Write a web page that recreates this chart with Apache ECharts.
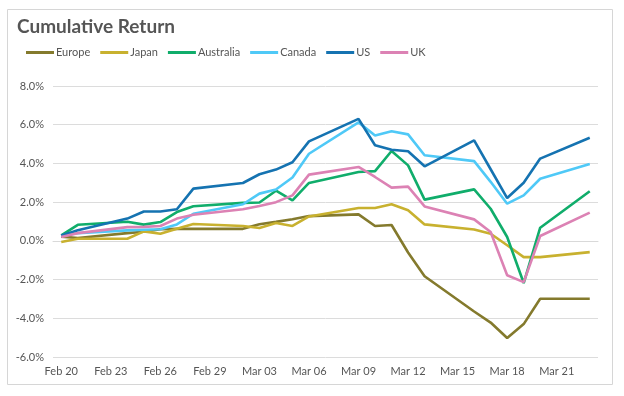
<!DOCTYPE html>
<html>
<head>
<meta charset="utf-8">
<script src="https://cdn.jsdelivr.net/npm/echarts@6/dist/echarts.min.js"></script>
<style>
    html, body { margin: 0; padding: 0; background: #fff; }
    #chart { width: 624px; height: 396px; }
</style>
</head>
<body>
<div id="chart"></div>
<script>
// 日历上的每一天（周末没有数据）
const calendarDays = [
    'Feb 20', 'Feb 21', 'Feb 22', 'Feb 23', 'Feb 24', 'Feb 25', 'Feb 26', 'Feb 27', 'Feb 28', 'Feb 29',
    'Mar 01', 'Mar 02', 'Mar 03', 'Mar 04', 'Mar 05', 'Mar 06', 'Mar 07', 'Mar 08', 'Mar 09', 'Mar 10',
    'Mar 11', 'Mar 12', 'Mar 13', 'Mar 14', 'Mar 15', 'Mar 16', 'Mar 17', 'Mar 18', 'Mar 19', 'Mar 20',
    'Mar 21', 'Mar 22', 'Mar 23'
];

// 交易日
const tradingDays = [
    'Feb 20', 'Feb 21', 'Feb 24', 'Feb 25', 'Feb 26', 'Feb 27', 'Feb 28',
    'Mar 02', 'Mar 03', 'Mar 04', 'Mar 05', 'Mar 06',
    'Mar 09', 'Mar 10', 'Mar 11', 'Mar 12', 'Mar 13',
    'Mar 16', 'Mar 17', 'Mar 18', 'Mar 19', 'Mar 20', 'Mar 23'
];

// 累计收益 (%)
const europe    = [0.22, 0.15, 0.40, 0.47, 0.60, 0.62, 0.62, 0.62, 0.86, 0.98, 1.12, 1.28, 1.37, 0.77, 0.82, -0.60, -1.83, -3.65, -4.22, -5.02, -4.30, -2.99, -2.99];
const japan     = [-0.06, 0.11, 0.11, 0.49, 0.37, 0.63, 0.87, 0.77, 0.66, 0.92, 0.77, 1.26, 1.70, 1.70, 1.89, 1.58, 0.85, 0.59, 0.37, -0.23, -0.84, -0.84, -0.58];
const australia = [0.28, 0.83, 0.99, 0.84, 0.97, 1.49, 1.79, 1.96, 1.98, 2.59, 2.09, 2.99, 3.56, 3.60, 4.64, 3.90, 2.13, 2.66, 1.66, 0.20, -2.18, 0.68, 2.56];
const canada    = [0.28, 0.40, 0.54, 0.57, 0.60, 0.85, 1.40, 1.89, 2.44, 2.65, 3.27, 4.50, 6.12, 5.44, 5.66, 5.50, 4.42, 4.12, 3.05, 1.92, 2.35, 3.21, 3.97];
const us        = [0.28, 0.55, 1.15, 1.52, 1.52, 1.63, 2.70, 2.99, 3.44, 3.68, 4.06, 5.14, 6.30, 4.94, 4.71, 4.63, 3.85, 5.19, 3.70, 2.21, 3.00, 4.25, 5.33];
const uk        = [0.20, 0.40, 0.71, 0.72, 0.77, 1.15, 1.35, 1.63, 1.80, 2.00, 2.35, 3.42, 3.82, 3.30, 2.75, 2.80, 1.78, 1.11, 0.46, -1.78, -2.13, 0.25, 1.46];

const seriesNames  = ['Europe', 'Japan', 'Australia', 'Canada', 'US', 'UK'];
const seriesValues = [europe, japan, australia, canada, us, uk];
const seriesColors = ['#847a2d', '#c8b12f', '#10ad6b', '#4fc9f7', '#1573b1', '#dc82b4'];

const chart = echarts.init(document.getElementById('chart'));

const series = seriesNames.map((name, i) => ({
    name: name,
    type: 'line',
    symbol: 'none',
    connectNulls: true,
    lineStyle: { width: 2.6, color: seriesColors[i] },
    itemStyle: { color: seriesColors[i] },
    data: seriesValues[i].map((v, j) => [tradingDays[j], v])
}));

chart.setOption({
    animation: false,
    textStyle: { fontFamily: 'Lato' },
    graphic: [{
        type: 'rect',
        shape: { x: 7.5, y: 9.5, width: 605, height: 375 },
        style: { fill: 'none', stroke: '#d6d6d6', lineWidth: 1 }
    }],
    title: {
        text: 'Cumulative Return',
        left: 12,
        top: 12,
        textStyle: { fontSize: 19, fontWeight: 'bold', color: '#555', fontFamily: 'Lato' }
    },
    legend: {
        left: 21,
        top: 42,
        icon: 'rect',
        itemWidth: 28,
        itemHeight: 3,
        itemGap: 10,
        textStyle: { fontSize: 11, color: '#555', fontFamily: 'Lato', padding: [0, 0, 0, -3] },
        data: seriesNames
    },
    grid: { left: 53, right: 26, top: 86, bottom: 39 },
    xAxis: {
        type: 'category',
        boundaryGap: true,
        data: calendarDays,
        axisLine: { lineStyle: { color: '#d9d9d9' } },
        axisTick: { show: false },
        axisLabel: { interval: 2, color: '#555', fontSize: 11, margin: 9 }
    },
    yAxis: {
        type: 'value',
        min: -6,
        max: 8,
        interval: 2,
        axisLine: { show: false },
        axisTick: { show: false },
        splitLine: { lineStyle: { color: '#dcdcdc', width: 1 } },
        axisLabel: {
            color: '#555',
            fontSize: 11,
            margin: 9,
            formatter: v => v.toFixed(1) + '%'
        }
    },
    series: series
});
</script>
</body>
</html>
